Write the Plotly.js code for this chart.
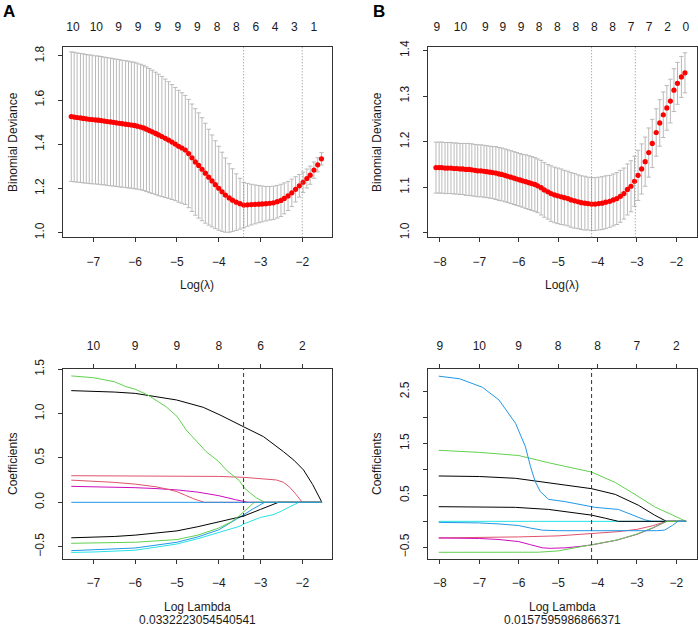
<!DOCTYPE html>
<html><head><meta charset="utf-8">
<script src="https://cdn.plot.ly/plotly-3.0.1.min.js"></script>
<style>html,body{margin:0;padding:0;background:#fff}#chart{width:698px;height:629px}</style>
</head><body><div id="chart"></div>
<script>
// ---------------- DATA ----------------
// Panel A (top): cross-validation curve
const logLambdaA = [-7.53,-7.46,-7.39,-7.31,-7.24,-7.17,-7.10,-7.03,-6.95,-6.88,
-6.81,-6.74,-6.67,-6.59,-6.52,-6.45,-6.38,-6.31,-6.23,-6.16,
-6.09,-6.02,-5.95,-5.87,-5.80,-5.73,-5.66,-5.59,-5.51,-5.44,
-5.36,-5.28,-5.20,-5.12,-5.04,-4.96,-4.88,-4.80,-4.72,-4.64,
-4.56,-4.48,-4.40,-4.32,-4.24,-4.16,-4.08,-4.00,-3.92,-3.84,
-3.75,-3.67,-3.58,-3.49,-3.40,-3.31,-3.22,-3.13,-3.04,-2.96,
-2.87,-2.78,-2.69,-2.60,-2.51,-2.43,-2.34,-2.25,-2.16,-2.07,
-1.98,-1.89,-1.81,-1.72,-1.63,-1.54];
const cvmA = [1.525,1.523,1.521,1.519,1.517,1.515,1.513,1.512,1.510,1.509,
1.507,1.505,1.503,1.501,1.499,1.497,1.495,1.493,1.491,1.489,
1.487,1.485,1.482,1.478,1.474,1.468,1.462,1.456,1.449,1.442,
1.435,1.427,1.419,1.410,1.401,1.391,1.383,1.374,1.358,1.339,
1.320,1.304,1.287,1.269,1.251,1.234,1.217,1.201,1.185,1.170,
1.157,1.147,1.138,1.131,1.125,1.126,1.127,1.128,1.129,1.130,
1.131,1.133,1.135,1.140,1.146,1.155,1.166,1.180,1.196,1.212,
1.228,1.245,1.260,1.283,1.307,1.334];
const cvsdA = [0.293,0.293,0.292,0.292,0.292,0.291,0.291,0.291,0.290,0.290,
0.290,0.289,0.289,0.289,0.288,0.288,0.288,0.287,0.287,0.287,
0.286,0.286,0.285,0.284,0.283,0.282,0.281,0.279,0.277,0.275,
0.272,0.268,0.264,0.260,0.256,0.253,0.250,0.247,0.245,0.243,
0.241,0.238,0.233,0.226,0.217,0.208,0.199,0.190,0.179,0.168,
0.155,0.142,0.128,0.115,0.103,0.097,0.092,0.088,0.084,0.081,
0.078,0.076,0.075,0.074,0.073,0.070,0.066,0.062,0.057,0.051,
0.046,0.043,0.041,0.037,0.032,0.028];
const nzPosA = [-7.49,-6.93,-6.40,-5.93,-5.46,-4.98,-4.51,-4.04,-3.58,-3.11,-2.65,-2.19,-1.72];
const nzA = ['10','10','9','9','9','9','9','8','8','6','4','3','1'];
const lambdaMinA = 0.0332223054540541;
const log1seA = -2.0;

// Panel B (top): cross-validation curve
const logLambdaB = [-8.10,-8.02,-7.95,-7.87,-7.80,-7.72,-7.64,-7.57,-7.49,-7.42,
-7.34,-7.26,-7.19,-7.11,-7.04,-6.96,-6.88,-6.81,-6.73,-6.66,
-6.58,-6.50,-6.43,-6.35,-6.28,-6.20,-6.12,-6.05,-5.97,-5.90,
-5.82,-5.74,-5.67,-5.59,-5.52,-5.43,-5.35,-5.26,-5.18,-5.09,
-5.01,-4.92,-4.84,-4.75,-4.67,-4.58,-4.49,-4.41,-4.32,-4.24,
-4.15,-4.06,-3.97,-3.88,-3.79,-3.69,-3.60,-3.51,-3.42,-3.33,
-3.24,-3.15,-3.06,-2.97,-2.88,-2.79,-2.70,-2.61,-2.51,-2.42,
-2.33,-2.24,-2.15,-2.06,-1.97,-1.87,-1.78];
const cvmB = [1.143,1.143,1.143,1.142,1.142,1.142,1.141,1.141,1.140,1.140,
1.139,1.139,1.138,1.137,1.136,1.136,1.135,1.134,1.133,1.132,
1.131,1.129,1.128,1.126,1.124,1.122,1.120,1.118,1.116,1.114,
1.112,1.110,1.108,1.106,1.103,1.099,1.094,1.090,1.086,1.083,
1.081,1.079,1.077,1.075,1.072,1.070,1.068,1.066,1.065,1.064,
1.063,1.063,1.064,1.065,1.067,1.069,1.072,1.075,1.080,1.086,
1.095,1.102,1.113,1.126,1.140,1.156,1.176,1.196,1.220,1.241,
1.259,1.274,1.289,1.313,1.328,1.342,1.351];
const cvsdB = [0.056,0.056,0.056,0.056,0.056,0.056,0.056,0.056,0.056,0.056,
0.057,0.057,0.057,0.057,0.057,0.057,0.057,0.057,0.057,0.057,
0.058,0.058,0.058,0.058,0.058,0.058,0.058,0.058,0.058,0.058,
0.059,0.059,0.059,0.059,0.059,0.060,0.060,0.060,0.061,0.061,
0.061,0.061,0.060,0.060,0.060,0.060,0.059,0.059,0.059,0.058,
0.058,0.058,0.058,0.058,0.058,0.057,0.057,0.057,0.057,0.056,
0.056,0.056,0.055,0.055,0.055,0.054,0.054,0.053,0.052,0.051,
0.050,0.049,0.048,0.047,0.046,0.045,0.044];
const nzPosB = [-8.08,-7.48,-6.85,-6.40,-5.94,-5.48,-5.02,-4.55,-4.08,-3.62,-3.15,-2.69,-2.22,-1.76];
const nzB = ['9','10','9','9','9','8','8','8','8','8','7','7','2','0'];
const lambdaMinB = 0.0157595986866371;
const log1seB = -3.04;

// Panel A (bottom): coefficient paths
const dfTicksA = [-7,-6,-5,-4,-3,-2];
const dfA = ['10','9','9','8','6','2'];
const pA_black1_x = [-7.53,-7,-6.5,-6,-5.65,-5.01,-4.37,-3.97,-3.41,-2.93,-2.45,-2.2,-1.97,-1.75,-1.53];
const pA_black1_y = [1.259,1.252,1.243,1.228,1.199,1.154,1.071,0.985,0.853,0.741,0.571,0.475,0.365,0.2,0];
const pA_red1_x = [-7.53,-6,-5,-4,-3.41,-3,-2.62,-2.45,-2.3,-2.15,-2.0,-1.53];
const pA_red1_y = [0.30,0.30,0.298,0.292,0.282,0.27,0.252,0.226,0.17,0.09,0,0];
const pA_green1_x = [-7.53,-7,-6.5,-6.22,-6,-5.7,-5.26,-5,-4.78,-4.5,-4.3,-4,-3.82,-3.5,-3.38,-3.1,-2.9,-1.53];
const pA_green1_y = [1.425,1.405,1.36,1.304,1.275,1.21,1.078,0.97,0.816,0.68,0.571,0.46,0.365,0.24,0.158,0.05,0,0];
const pA_blue1_x = [-7.53,-7,-6,-5,-4.5,-4,-3.6,-3.4,-3.2,-3.0,-2.9,-1.53];
const pA_blue1_y = [-0.545,-0.535,-0.515,-0.45,-0.39,-0.31,-0.2,-0.14,-0.08,-0.03,0,0];
const pA_cyan_x = [-7.53,-7,-6,-5,-4.5,-4,-3.5,-3.4,-3,-2.7,-2.5,-2.3,-2.08,-1.53];
const pA_cyan_y = [-0.565,-0.56,-0.54,-0.47,-0.41,-0.34,-0.27,-0.244,-0.17,-0.14,-0.10,-0.05,0,0];
const pA_magenta_x = [-7.53,-7,-6.5,-6,-5.5,-5,-4.5,-4,-3.6,-3.3,-1.53];
const pA_magenta_y = [0.18,0.177,0.172,0.165,0.155,0.14,0.115,0.075,0.03,0,0];
const pA_black2_x = [-7.53,-7,-6.5,-6,-5.5,-5,-4.5,-4,-3.41,-3,-2.8,-2.57,-1.53];
const pA_black2_y = [-0.40,-0.395,-0.385,-0.37,-0.35,-0.322,-0.275,-0.218,-0.156,-0.08,-0.045,0,0];
const pA_red2_x = [-7.53,-7,-6.5,-6,-5.5,-5.2,-5.0,-4.8,-4.6,-4.35,-1.53];
const pA_red2_y = [0.25,0.238,0.225,0.205,0.175,0.145,0.12,0.08,0.04,0,0];
const pA_green2_x = [-7.53,-7,-6,-5,-4.5,-4,-3.7,-3.5,-3.3,-3.15,-1.53];
const pA_green2_y = [-0.462,-0.46,-0.45,-0.42,-0.37,-0.29,-0.22,-0.15,-0.07,0,0];
const pA_blue2_x = [-7.53,-1.53];
const pA_blue2_y = [0,0];

// Panel B (bottom): coefficient paths
const dfTicksB = [-8,-7,-6,-5,-4,-3,-2];
const dfB = ['9','10','9','8','8','7','2'];
const pB_cyan_x = [-8.03,-1.75];
const pB_cyan_y = [0,0];
const pB_black1_x = [-8.03,-7,-6.08,-5.24,-4.15,-3.55,-2.96,-2.55,-2.25,-1.75];
const pB_black1_y = [0.875,0.865,0.83,0.745,0.63,0.52,0.31,0.12,0,0];
const pB_red_x = [-8.03,-7,-6,-5,-4.15,-3.5,-3,-2.6,-2.25,-1.75];
const pB_red_y = [-0.32,-0.315,-0.30,-0.28,-0.24,-0.20,-0.155,-0.085,0,0];
const pB_green1_x = [-8.03,-7,-6,-5.24,-4.15,-3.55,-3.05,-2.55,-2.09,-1.75];
const pB_green1_y = [1.37,1.33,1.27,1.13,0.95,0.75,0.52,0.28,0.12,0];
const pB_blue1_x = [-8.03,-7.5,-6.92,-6.5,-6.08,-5.83,-5.70,-5.58,-5.45,-5.24,-4.82,-4.06,-3.47,-3.05,-2.8,-2.63,-1.75];
const pB_blue1_y = [2.80,2.75,2.585,2.34,1.89,1.44,1.054,0.766,0.572,0.424,0.38,0.27,0.23,0.10,0.03,0,0];
const pB_magenta_x = [-8.03,-7,-6.5,-6,-5.7,-5.4,-5.2,-4.8,-4.4,-4.15,-3.5,-3.0,-2.6,-2.25,-1.75];
const pB_magenta_y = [-0.32,-0.33,-0.35,-0.39,-0.45,-0.51,-0.52,-0.51,-0.48,-0.455,-0.36,-0.25,-0.13,0,0];
const pB_black2_x = [-8.03,-7,-6.08,-5.24,-4.15,-3.8,-3.47,-1.75];
const pB_black2_y = [0.283,0.28,0.27,0.23,0.12,0.06,0,0];
const pB_green2_x = [-8.03,-7,-6,-5.5,-5,-4.5,-4.15,-3.5,-3.0,-2.6,-2.25,-1.75];
const pB_green2_y = [-0.597,-0.597,-0.597,-0.595,-0.57,-0.5,-0.455,-0.36,-0.245,-0.125,0,0];
const pB_blue2_x = [-8.03,-7,-6.5,-6,-5.7,-5.4,-5,-4,-3,-2.5,-2.3,-2.1,-1.96,-1.75];
const pB_blue2_y = [-0.02,-0.03,-0.05,-0.08,-0.13,-0.17,-0.18,-0.185,-0.185,-0.18,-0.17,-0.08,0,0];

// ---------------- STYLE / BUILD ----------------
const COL = {black:'#000000', red:'#DF536B', green:'#61D04F', blue:'#2297E6', cyan:'#28E2E5', magenta:'#CD0BBC'};
const FONT = 'Liberation Sans, Arial, Helvetica, sans-serif';
const TXT = '#1a1a1a';

const pathsA = [
  [pA_black1_x, pA_black1_y, 'black'], [pA_red1_x, pA_red1_y, 'red'], [pA_green1_x, pA_green1_y, 'green'],
  [pA_blue1_x, pA_blue1_y, 'blue'], [pA_cyan_x, pA_cyan_y, 'cyan'], [pA_magenta_x, pA_magenta_y, 'magenta'],
  [pA_black2_x, pA_black2_y, 'black'], [pA_red2_x, pA_red2_y, 'red'], [pA_green2_x, pA_green2_y, 'green'],
  [pA_blue2_x, pA_blue2_y, 'blue']
];
const pathsB = [
  [pB_black1_x, pB_black1_y, 'black'], [pB_red_x, pB_red_y, 'red'], [pB_green1_x, pB_green1_y, 'green'],
  [pB_blue1_x, pB_blue1_y, 'blue'], [pB_cyan_x, pB_cyan_y, 'cyan'], [pB_magenta_x, pB_magenta_y, 'magenta'],
  [pB_black2_x, pB_black2_y, 'black'], [pB_green2_x, pB_green2_y, 'green'], [pB_blue2_x, pB_blue2_y, 'blue']
];

const traces = [];
function cvTrace(x, y, sd, xa, ya) {
  return {x:x, y:y, type:'scatter', mode:'markers', xaxis:xa, yaxis:ya, hoverinfo:'skip',
    marker:{color:'#FF0000', size:5.2, line:{width:0}},
    error_y:{type:'data', array:sd, visible:true, color:'#b9b9b9', thickness:1, width:2.2}};
}
traces.push(cvTrace(logLambdaA, cvmA, cvsdA, 'x', 'y'));
traces.push(cvTrace(logLambdaB, cvmB, cvsdB, 'x2', 'y2'));
pathsA.forEach(p => traces.push({x:p[0], y:p[1], type:'scatter', mode:'lines', xaxis:'x3', yaxis:'y3',
  line:{color:COL[p[2]], width:1}, hoverinfo:'skip'}));
pathsB.forEach(p => traces.push({x:p[0], y:p[1], type:'scatter', mode:'lines', xaxis:'x4', yaxis:'y4',
  line:{color:COL[p[2]], width:1}, hoverinfo:'skip'}));
// invisible traces to anchor top axes
[['x5','y',nzPosA],['x6','y2',nzPosB],['x7','y3',dfTicksA],['x8','y4',dfTicksB]].forEach(t =>
  traces.push({x:t[2], y:t[2].map(()=>null), xaxis:t[0], yaxis:t[1], type:'scatter', mode:'markers',
    marker:{opacity:0}, hoverinfo:'skip'}));

const W = 698, H = 629;
const dxA = [62.5/W, 331.7/W], dxB = [427.7/W, 696.7/W];
const dyTop = [1-237.3/H, 1-47/H], dyBot = [1-559/H, 1-369/H];
const rangeXA = [-7.74, -1.295], rangeXB = [-8.31, -1.482];

const tickFont = {family:FONT, size:12, color:TXT};
function xAx(domain, range, anchor) {
  return {domain:domain, range:range, anchor:anchor, tickmode:'linear', tick0:0, dtick:1,
    ticks:'outside', ticklen:4, tickcolor:'#333', tickwidth:1, showline:true, mirror:true,
    linecolor:'#333', linewidth:1, showgrid:false, zeroline:false, tickfont:tickFont,
    ticklabelstandoff:9, fixedrange:true};
}
function yAx(domain, range, anchor, extra) {
  return Object.assign({domain:domain, range:range, anchor:anchor, ticks:'outside', ticklen:4,
    tickcolor:'#333', tickwidth:1, showline:true, mirror:true, linecolor:'#333', linewidth:1,
    showgrid:false, zeroline:false, tickfont:tickFont, tickangle:-90, ticklabelstandoff:9,
    fixedrange:true}, extra);
}
function topAx(over, range, anchor, vals, text, ticks) {
  return {overlaying:over, side:'top', anchor:anchor, range:range, tickmode:'array', tickvals:vals,
    ticktext:text, ticks:ticks, ticklen:4, tickcolor:'#333', showline:false, showgrid:false,
    zeroline:false, tickfont:tickFont, ticklabelstandoff: ticks ? 9 : 13, fixedrange:true};
}

const layout = {
  width:W, height:H, margin:{l:0,r:0,t:0,b:0}, paper_bgcolor:'#fff', plot_bgcolor:'#fff',
  showlegend:false, font:{family:FONT, size:12, color:TXT},
  xaxis: xAx(dxA, rangeXA, 'y'),
  yaxis: yAx(dyTop, [0.979, 1.840], 'x', {tickmode:'array', tickvals:[1.0,1.2,1.4,1.6,1.8], tickformat:'.1f'}),
  xaxis2: xAx(dxB, rangeXB, 'y2'),
  yaxis2: yAx(dyTop, [0.990, 1.4077], 'x2', {tickmode:'array', tickvals:[1.0,1.1,1.2,1.3,1.4], tickformat:'.1f'}),
  xaxis3: xAx(dxA, rangeXA, 'y3'),
  yaxis3: yAx(dyBot, [-0.639, 1.503], 'x3', {tickmode:'array', tickvals:[-0.5,0,0.5,1.0,1.5], tickformat:'.1f'}),
  xaxis4: xAx(dxB, rangeXB, 'y4'),
  yaxis4: yAx(dyBot, [-0.726, 2.938], 'x4', {tickmode:'array', tickvals:[-0.5,0,0.5,1,1.5,2,2.5],
    ticktext:['\u22120.5','','0.5','','1.5','','2.5']}),
  xaxis5: topAx('x', rangeXA, 'y', nzPosA, nzA, ''),
  xaxis6: topAx('x2', rangeXB, 'y2', nzPosB, nzB, ''),
  xaxis7: topAx('x3', rangeXA, 'y3', dfTicksA, dfA, 'outside'),
  xaxis8: topAx('x4', rangeXB, 'y4', dfTicksB, dfB, 'outside'),
  shapes: [
    {type:'line', xref:'x', yref:'y domain', x0:Math.log(lambdaMinA), x1:Math.log(lambdaMinA), y0:0, y1:1, line:{color:'#888', width:1, dash:'1px,2px'}},
    {type:'line', xref:'x', yref:'y domain', x0:log1seA, x1:log1seA, y0:0, y1:1, line:{color:'#888', width:1, dash:'1px,2px'}},
    {type:'line', xref:'x2', yref:'y2 domain', x0:Math.log(lambdaMinB), x1:Math.log(lambdaMinB), y0:0, y1:1, line:{color:'#888', width:1, dash:'1px,2px'}},
    {type:'line', xref:'x2', yref:'y2 domain', x0:log1seB, x1:log1seB, y0:0, y1:1, line:{color:'#888', width:1, dash:'1px,2px'}},
    {type:'line', xref:'x3', yref:'y3 domain', x0:Math.log(lambdaMinA), x1:Math.log(lambdaMinA), y0:0, y1:1, line:{color:'#333', width:1, dash:'4px,3px'}},
    {type:'line', xref:'x4', yref:'y4 domain', x0:Math.log(lambdaMinB), x1:Math.log(lambdaMinB), y0:0, y1:1, line:{color:'#333', width:1, dash:'4px,3px'}}
  ],
  annotations: []
};
function ann(text, px, py, opts) {
  layout.annotations.push(Object.assign({text:text, xref:'paper', yref:'paper', x:px/W, y:1-py/H,
    xanchor:'center', yanchor:'middle', showarrow:false, font:{family:FONT, size:12, color:TXT}}, opts||{}));
}
ann('<b>A</b>', 9, 11, {font:{family:FONT, size:17, color:'#000'}});
ann('<b>B</b>', 379, 11, {font:{family:FONT, size:17, color:'#000'}});
ann('Binomial Deviance', 13, 142, {textangle:-90});
ann('Binomial Deviance', 377, 142, {textangle:-90});
ann('Log(\u03bb)', 197, 285);
ann('Log(\u03bb)', 562, 285);
ann('Coefficients', 13, 464, {textangle:-90});
ann('Coefficients', 377, 464, {textangle:-90});
ann('Log Lambda', 197, 607);
ann(String(lambdaMinA), 197, 620);
ann('Log Lambda', 562, 607);
ann(String(lambdaMinB), 562, 620);

Plotly.newPlot('chart', traces, layout, {displayModeBar:false, staticPlot:true});
</script></body></html>
